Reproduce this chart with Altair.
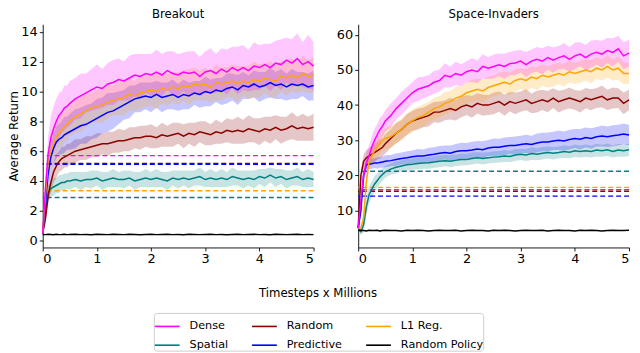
import altair as alt
import pandas as pd

# ---------------- data ----------------
STEPS = [0, 0.05, 0.1, 0.15, 0.2, 0.25, 0.3, 0.35, 0.4, 0.45,
         0.5, 0.6, 0.7, 0.8, 0.9, 1.0, 1.1, 1.2, 1.3, 1.4,
         1.5, 1.6, 1.7, 1.8, 1.9, 2.0, 2.1, 2.2, 2.3, 2.4,
         2.5, 2.6, 2.7, 2.8, 2.9, 3.0, 3.1, 3.2, 3.3, 3.4,
         3.5, 3.6, 3.7, 3.8, 3.9, 4.0, 4.1, 4.2, 4.3, 4.4,
         4.5, 4.6, 4.7, 4.8, 4.9, 5.0]

# legend order as in the reference (filled column by column)
LEGEND_ORDER = ["Dense", "Spatial", "Random", "Predictive", "L1 Reg.", "Random Policy"]
COLORS = ["#ff00ff", "#008080", "#8b0000", "#0000ff", "#ffa500", "#000000"]
BASE_METHODS = ["Dense", "Random", "L1 Reg.", "Spatial", "Predictive"]

# Breakout
BO_DENSE = [0.5, 3.5, 5.8, 6.9, 7.5, 8.0, 8.4, 8.6, 8.9, 9.0,
            9.2, 9.5, 9.7, 9.9, 10.1, 10.3, 10.2, 10.5, 10.6, 10.8,
            10.7, 10.9, 11.1, 11.0, 11.2, 11.1, 11.3, 11.1, 11.4, 11.2,
            11.1, 11.3, 11.2, 11.3, 11.0, 11.3, 11.4, 11.2, 11.5, 11.3,
            11.6, 11.4, 11.6, 11.4, 11.7, 11.6, 11.8, 11.6, 11.9, 11.8,
            12.1, 11.9, 12.2, 11.8, 12.0, 11.7]
BO_DENSE_HW = [0.1, 0.8, 1.2, 1.4, 1.5, 1.5, 1.5, 1.4, 1.5, 1.4,
               1.5, 1.4, 1.5, 1.3, 1.4, 1.5, 1.3, 1.4, 1.5, 1.4,
               1.3, 1.5, 1.4, 1.5, 1.3, 1.4, 1.5, 1.4, 1.3, 1.5,
               1.4, 1.3, 1.5, 1.4, 1.3, 1.4, 1.5, 1.3, 1.4, 1.5,
               1.4, 1.6, 1.5, 1.4, 1.6, 1.5, 1.4, 1.6, 1.5, 1.7,
               1.5, 1.6, 1.7, 1.5, 1.8, 1.6]
BO_L1 = [0.5, 3.0, 5.3, 6.0, 6.5, 6.9, 7.2, 7.4, 7.6, 7.8,
         8.0, 8.3, 8.5, 8.7, 8.9, 9.0, 9.1, 9.3, 9.4, 9.5,
         9.6, 9.8, 9.7, 9.9, 10.0, 10.1, 10.0, 10.2, 10.1, 10.3,
         10.2, 10.4, 10.3, 10.5, 10.4, 10.5, 10.3, 10.6, 10.5, 10.6,
         10.7, 10.5, 10.7, 10.6, 10.8, 10.7, 10.9, 10.8, 10.7, 11.0,
         10.9, 11.1, 10.9, 11.2, 11.0, 11.1]
BO_L1_HW = [0.1, 0.6, 0.9, 1.0, 1.0, 1.1, 1.0, 1.1, 1.0, 1.1,
            1.0, 1.1, 1.2, 1.1, 1.0, 1.1, 1.2, 1.1, 1.0, 1.1,
            1.2, 1.1, 1.0, 1.1, 1.0, 1.1, 1.2, 1.0, 1.1, 1.0,
            1.1, 1.0, 1.2, 1.1, 1.0, 1.1, 1.0, 1.2, 1.1, 1.0,
            1.1, 1.2, 1.0, 1.1, 1.2, 1.1, 1.0, 1.2, 1.1, 1.0,
            1.2, 1.1, 1.0, 1.2, 1.1, 1.2]
BO_PRED = [0.5, 2.5, 4.5, 5.6, 6.2, 6.6, 6.8, 6.9, 7.1, 7.2,
           7.3, 7.5, 7.7, 7.8, 8.0, 8.2, 8.4, 8.6, 8.7, 8.9,
           9.1, 9.3, 9.5, 9.6, 9.7, 9.6, 9.8, 9.6, 9.7, 9.8,
           9.6, 9.8, 9.7, 9.9, 9.8, 10.0, 9.9, 10.1, 10.0, 10.2,
           10.3, 10.1, 10.4, 10.3, 10.5, 10.3, 10.4, 10.6, 10.4, 10.5,
           10.3, 10.5, 10.4, 10.5, 10.3, 10.4]
BO_PRED_HW = [0.1, 0.7, 1.0, 1.0, 1.0, 1.1, 1.0, 1.1, 1.2, 1.1,
              1.2, 1.3, 1.2, 1.3, 1.2, 1.3, 1.2, 1.3, 1.2, 1.1,
              1.0, 1.1, 0.9, 1.0, 0.9, 1.0, 0.9, 1.0, 0.9, 1.0,
              0.9, 1.0, 0.9, 0.8, 0.9, 1.0, 0.9, 0.8, 0.9, 1.0,
              0.9, 1.0, 0.9, 0.8, 0.9, 1.0, 0.9, 1.0, 0.9, 1.0,
              0.9, 1.0, 0.9, 0.8, 0.9, 1.0]
BO_RAND = [0.5, 1.5, 3.0, 3.9, 4.6, 5.0, 5.3, 5.5, 5.6, 5.7,
           5.8, 6.0, 6.1, 6.2, 6.3, 6.4, 6.5, 6.5, 6.6, 6.7,
           6.7, 6.8, 6.9, 6.9, 7.0, 7.0, 6.9, 7.1, 7.0, 7.1,
           7.2, 7.0, 7.2, 7.1, 7.3, 7.2, 7.1, 7.3, 7.2, 7.4,
           7.3, 7.4, 7.3, 7.5, 7.4, 7.3, 7.5, 7.4, 7.6, 7.4,
           7.5, 7.7, 7.5, 7.6, 7.5, 7.6]
BO_RAND_HW = [0.1, 0.4, 0.6, 0.7, 0.7, 0.8, 0.7, 0.8, 0.7, 0.8,
              0.7, 0.8, 0.7, 0.8, 0.7, 0.8, 0.7, 0.8, 0.7, 0.8,
              0.7, 0.8, 0.7, 0.8, 0.7, 0.8, 0.7, 0.8, 0.7, 0.8,
              0.7, 0.8, 0.7, 0.8, 0.7, 0.8, 0.7, 0.8, 0.7, 0.8,
              0.8, 0.9, 0.8, 0.9, 0.8, 0.9, 0.8, 0.9, 0.8, 0.9,
              0.8, 0.9, 0.8, 0.9, 0.8, 0.9]
BO_SPAT = [0.5, 1.8, 3.2, 3.5, 3.6, 3.7, 3.8, 3.9, 3.9, 4.0,
           4.0, 4.1, 4.0, 4.1, 4.1, 4.2, 4.0, 4.1, 4.2, 4.1,
           4.1, 4.2, 4.0, 4.1, 4.2, 4.1, 4.2, 4.1, 4.0, 4.2,
           4.1, 4.2, 4.1, 4.2, 4.3, 4.1, 4.2, 4.1, 4.2, 4.1,
           4.3, 4.2, 4.1, 4.2, 4.1, 4.3, 4.2, 4.4, 4.2, 4.3,
           4.1, 4.2, 4.3, 4.1, 4.2, 4.1]
BO_SPAT_HW = [0.1, 0.4, 0.5, 0.5, 0.6, 0.5, 0.6, 0.5, 0.6, 0.5,
              0.6, 0.5, 0.6, 0.5, 0.6, 0.5, 0.6, 0.5, 0.6, 0.5,
              0.6, 0.5, 0.6, 0.5, 0.6, 0.5, 0.6, 0.5, 0.6, 0.5,
              0.6, 0.5, 0.6, 0.5, 0.6, 0.5, 0.6, 0.5, 0.6, 0.5,
              0.6, 0.5, 0.6, 0.5, 0.6, 0.5, 0.6, 0.5, 0.6, 0.5,
              0.6, 0.5, 0.6, 0.5, 0.6, 0.5]
BO_RPOL = [0.42, 0.41, 0.43, 0.42, 0.40, 0.43, 0.41, 0.42, 0.44, 0.41,
           0.42, 0.43, 0.41, 0.42, 0.40, 0.43, 0.42, 0.41, 0.43, 0.42,
           0.41, 0.43, 0.42, 0.40, 0.42, 0.43, 0.41, 0.42, 0.43, 0.41,
           0.42, 0.40, 0.43, 0.42, 0.41, 0.42, 0.43, 0.41, 0.42, 0.40,
           0.42, 0.43, 0.41, 0.42, 0.43, 0.41, 0.42, 0.40, 0.43, 0.42,
           0.41, 0.42, 0.43, 0.41, 0.42, 0.41]
BO_BASE = [5.7, 5.18, 3.35, 2.9, 5.12]

# Space-Invaders
SI_DENSE = [5.0, 13.0, 20.0, 23.5, 25.5, 28.0, 30.0, 31.5, 33.0, 34.0,
            35.5, 37.0, 39.0, 40.5, 42.0, 43.5, 44.5, 45.0, 45.5, 46.5,
            47.0, 48.5, 48.0, 49.0, 48.5, 49.5, 50.0, 49.5, 51.0, 50.5,
            51.0, 51.5, 51.0, 51.8, 52.0, 52.5, 51.5, 52.5, 53.0, 52.5,
            53.5, 52.8, 53.5, 54.0, 53.0, 54.0, 54.5, 53.5, 54.5, 55.0,
            54.5, 55.5, 55.0, 56.0, 54.0, 54.8]
SI_DENSE_HW = [0.3, 2.0, 2.5, 2.8, 3.0, 3.0, 3.2, 3.0, 3.3, 3.1,
               3.0, 3.4, 3.0, 3.3, 3.1, 3.0, 3.4, 3.1, 3.0, 3.3,
               3.1, 3.4, 3.0, 3.3, 3.1, 3.0, 3.4, 3.2, 3.5, 3.1,
               3.4, 3.2, 3.6, 3.3, 3.5, 3.2, 3.6, 3.3, 3.5, 3.7,
               3.4, 3.6, 3.3, 3.7, 3.5, 3.8, 3.4, 3.6, 3.9, 3.5,
               3.8, 3.6, 4.0, 3.7, 3.9, 3.8]
SI_L1 = [5.0, 5.0, 8.0, 18.0, 24.0, 25.5, 27.0, 28.0, 29.0, 30.0,
         30.5, 31.0, 32.0, 33.0, 34.5, 35.5, 36.5, 37.0, 38.0, 39.0,
         39.5, 40.5, 41.0, 42.0, 42.5, 43.5, 44.0, 44.5, 44.0, 45.0,
         45.5, 46.0, 46.5, 46.0, 47.0, 47.5, 47.0, 48.0, 47.5, 48.5,
         48.0, 48.5, 49.0, 48.5, 49.5, 49.0, 49.5, 50.0, 49.5, 50.5,
         50.0, 51.0, 50.0, 50.5, 49.0, 49.0]
SI_L1_HW = [0.3, 0.5, 1.5, 2.0, 2.5, 2.7, 2.8, 3.0, 2.8, 3.1,
            3.0, 3.2, 2.9, 3.1, 3.0, 3.3, 3.0, 3.2, 2.9, 3.1,
            3.0, 3.2, 3.0, 3.3, 3.1, 3.0, 3.2, 3.0, 3.3, 3.1,
            3.0, 3.2, 3.0, 3.3, 3.1, 3.0, 3.2, 3.0, 3.3, 3.1,
            3.0, 3.2, 3.0, 3.3, 3.1, 3.0, 3.2, 3.0, 3.3, 3.1,
            3.0, 3.2, 3.0, 3.3, 3.1, 3.0]
SI_RAND = [5.0, 20.0, 24.0, 25.0, 25.5, 26.0, 26.5, 27.0, 27.5, 28.0,
           29.0, 30.5, 32.0, 33.0, 34.5, 35.5, 36.0, 36.5, 37.0, 38.0,
           38.0, 38.5, 39.0, 38.5, 39.5, 40.0, 39.5, 40.5, 40.0, 40.0,
           40.5, 41.0, 40.0, 41.0, 40.5, 41.0, 41.5, 40.5, 41.0, 41.5,
           41.0, 42.0, 41.0, 41.5, 42.0, 41.5, 41.0, 42.0, 41.5, 42.0,
           42.5, 41.5, 42.0, 42.0, 40.5, 41.5]
SI_RAND_HW = [0.3, 1.5, 2.0, 2.2, 2.3, 2.5, 2.6, 2.5, 2.7, 2.6,
              2.8, 2.6, 2.9, 2.7, 3.0, 2.8, 3.0, 2.8, 3.1, 2.9,
              3.0, 2.8, 3.1, 2.9, 3.0, 2.8, 3.1, 2.9, 3.0, 2.8,
              3.1, 2.9, 3.0, 2.8, 3.1, 2.9, 3.0, 2.8, 3.1, 2.9,
              3.0, 2.8, 3.1, 2.9, 3.0, 2.8, 3.1, 2.9, 3.0, 2.8,
              3.1, 2.9, 3.0, 2.8, 3.1, 2.9]
SI_PRED = [5.0, 10.0, 20.0, 23.0, 23.2, 23.3, 23.5, 23.5, 23.7, 23.8,
           24.0, 24.2, 24.5, 24.8, 25.0, 25.3, 25.5, 25.5, 25.8, 26.0,
           26.3, 26.5, 26.3, 26.8, 27.0, 27.0, 27.2, 27.5, 27.3, 27.8,
           28.0, 28.0, 28.3, 28.5, 28.5, 28.8, 29.0, 28.8, 29.2, 29.5,
           29.5, 29.8, 30.0, 29.8, 30.2, 30.5, 30.3, 30.8, 30.5, 31.0,
           31.2, 31.0, 31.3, 31.5, 31.8, 31.5]
SI_PRED_HW = [0.3, 1.0, 1.2, 1.3, 1.4, 1.5, 1.4, 1.6, 1.5, 1.6,
              1.7, 1.6, 1.8, 1.7, 1.9, 1.8, 2.0, 1.9, 2.1, 2.0,
              2.1, 2.0, 2.2, 2.1, 2.3, 2.2, 2.4, 2.3, 2.4, 2.3,
              2.5, 2.4, 2.5, 2.4, 2.6, 2.5, 2.6, 2.5, 2.7, 2.6,
              2.7, 2.6, 2.8, 2.7, 2.8, 2.7, 2.9, 2.8, 2.9, 2.8,
              3.0, 2.9, 3.0, 2.9, 3.0, 2.9]
SI_SPAT = [5.0, 4.0, 6.0, 11.0, 14.5, 16.0, 17.5, 18.5, 19.5, 20.3,
           21.0, 21.8, 22.3, 22.7, 23.0, 23.2, 23.4, 23.5, 23.6, 23.8,
           24.0, 24.2, 24.0, 24.3, 24.5, 24.5, 24.8, 25.0, 24.8, 25.0,
           25.2, 25.3, 25.5, 25.4, 25.8, 26.0, 25.8, 26.2, 26.0, 26.3,
           26.5, 26.3, 26.5, 26.8, 26.6, 27.0, 26.8, 27.0, 26.8, 27.2,
           27.0, 27.3, 26.8, 27.2, 27.0, 27.3]
SI_SPAT_HW = [0.3, 1.0, 2.0, 2.5, 2.5, 2.3, 2.2, 2.0, 1.9, 1.8,
              1.7, 1.6, 1.7, 1.6, 1.7, 1.6, 1.7, 1.6, 1.7, 1.6,
              1.7, 1.6, 1.7, 1.6, 1.7, 1.6, 1.7, 1.6, 1.7, 1.6,
              1.7, 1.6, 1.7, 1.6, 1.7, 1.6, 1.7, 1.8, 1.7, 1.8,
              1.7, 1.8, 1.7, 1.8, 1.7, 1.8, 1.7, 1.8, 1.7, 1.8,
              1.7, 1.8, 1.7, 1.8, 1.7, 1.8]
SI_RPOL = [4.3, 4.4, 4.3, 4.2, 4.4, 4.3, 4.3, 4.4, 4.2, 4.3,
           4.4, 4.3, 4.3, 4.2, 4.4, 4.3, 4.4, 4.3, 4.2, 4.3,
           4.4, 4.3, 4.3, 4.4, 4.2, 4.3, 4.4, 4.3, 4.3, 4.2,
           4.4, 4.3, 4.4, 4.3, 4.2, 4.3, 4.4, 4.3, 4.3, 4.4,
           4.2, 4.3, 4.4, 4.3, 4.3, 4.2, 4.4, 4.3, 4.4, 4.3,
           4.2, 4.3, 4.4, 4.3, 4.3, 4.4]
SI_BASE = [15.95, 15.5, 16.6, 21.2, 14.1]


def curves(series):
    rows = []
    for name, mean, hw in series:
        for i, x in enumerate(STEPS):
            h = hw[i] if hw is not None else 0.0
            rows.append({"x": x, "method": name, "mean": mean[i],
                         "lo": mean[i] - h, "hi": mean[i] + h})
    return pd.DataFrame(rows)


BO_DF = curves([
    ("Spatial", BO_SPAT, BO_SPAT_HW), ("Random", BO_RAND, BO_RAND_HW),
    ("Predictive", BO_PRED, BO_PRED_HW), ("L1 Reg.", BO_L1, BO_L1_HW),
    ("Dense", BO_DENSE, BO_DENSE_HW), ("Random Policy", BO_RPOL, None)])
SI_DF = curves([
    ("Spatial", SI_SPAT, SI_SPAT_HW), ("Random", SI_RAND, SI_RAND_HW),
    ("Predictive", SI_PRED, SI_PRED_HW), ("L1 Reg.", SI_L1, SI_L1_HW),
    ("Dense", SI_DENSE, SI_DENSE_HW), ("Random Policy", SI_RPOL, None)])
BO_BASE_DF = pd.DataFrame({"method": BASE_METHODS, "val": BO_BASE})
SI_BASE_DF = pd.DataFrame({"method": BASE_METHODS, "val": SI_BASE})

# legend scale (line colours) and a reversed-order copy for bands / dashed lines,
# so that their (hidden) legends are not merged with the visible one
LINE_SCALE = alt.Scale(domain=LEGEND_ORDER, range=COLORS)
AUX_SCALE = alt.Scale(domain=LEGEND_ORDER[::-1], range=COLORS[::-1])


def panel(df, base_df, title, ydomain, yticks, ytitle, xtitle):
    if xtitle:
        xaxis = alt.Axis(values=[0, 1, 2, 3, 4, 5], format="d", labelOverlap=False,
                         title=xtitle, titleX=277, titleY=40,
                         titleAlign="center", titleBaseline="top")
    else:
        xaxis = alt.Axis(values=[0, 1, 2, 3, 4, 5], format="d", labelOverlap=False,
                         title=None)
    x = alt.X("x:Q", scale=alt.Scale(domain=[0, 5], nice=False), axis=xaxis)
    yscale = alt.Scale(domain=ydomain, nice=False, zero=False)
    if ytitle:
        yaxis = alt.Axis(values=yticks, title=ytitle, format="d", labelOverlap=False)
    else:
        yaxis = alt.Axis(values=yticks, title=None, format="d", labelOverlap=False)
    band = alt.Chart(df[df["method"] != "Random Policy"]).mark_area(
        opacity=0.22).encode(
        x=x,
        y=alt.Y("lo:Q", scale=yscale, axis=yaxis),
        y2="hi:Q",
        fill=alt.Fill("method:N", scale=AUX_SCALE, legend=None),
        detail="method:N")
    base = alt.Chart(base_df).mark_rule(strokeDash=[5, 3], strokeWidth=1.4).encode(
        y=alt.Y("val:Q", scale=yscale, axis=yaxis),
        stroke=alt.Stroke("method:N", scale=AUX_SCALE, legend=None))
    line = alt.Chart(df).mark_line(strokeWidth=1.5).encode(
        x=x,
        y=alt.Y("mean:Q", scale=yscale, axis=yaxis),
        color=alt.Color("method:N", scale=LINE_SCALE,
                        legend=alt.Legend(title=None, symbolType="stroke")))
    return alt.layer(band, base, line).properties(
        width=273, height=225,
        title=alt.TitleParams(title, fontSize=11.8, fontWeight="normal",
                              anchor="middle", offset=3))


left = panel(BO_DF, BO_BASE_DF, "Breakout", [-0.45, 14.5],
             [0, 2, 4, 6, 8, 10, 12, 14], "Average Return", "Timesteps x Millions")
right = panel(SI_DF, SI_BASE_DF, "Space-Invaders", [-0.5, 63],
              [10, 20, 30, 40, 50, 60], None, None)

chart = alt.hconcat(left, right, spacing=45, bounds="flush").properties(
    padding={"left": 0, "top": 0, "right": 0, "bottom": 0}
).configure(
    font="DejaVu Sans"
).configure_view(
    stroke=None
).configure_axis(
    grid=False, domainColor="black", tickColor="black", labelColor="black",
    domainWidth=0.9, tickWidth=0.9, tickSize=3.5, labelFontSize=13,
    labelPadding=2, titleFontSize=11.8, titleFontWeight="normal",
    titleColor="black", titlePadding=1
).configure_legend(
    orient="none", legendX=112, legendY=291, columns=3, gridAlign="each",
    symbolType="stroke", symbolSize=625, symbolStrokeWidth=1.6,
    labelFontSize=11.3, labelColor="black", labelOffset=9,
    columnPadding=20, rowPadding=-2,
    strokeColor="#cccccc", cornerRadius=3, fillColor="white", padding=0
).configure_title(color="black")

chart.save("out.html", embed_options={"renderer": "svg", "actions": False})
